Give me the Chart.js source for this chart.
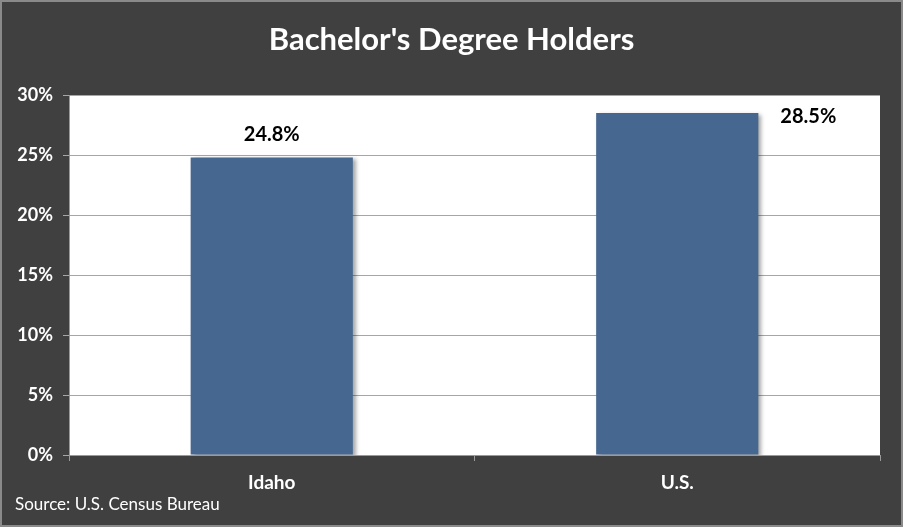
<!DOCTYPE html>
<html><head><meta charset="utf-8">
<script src="https://cdn.jsdelivr.net/npm/chart.js@4"></script>
<style>
html,body{margin:0;padding:0;background:#404040;}
#wrap{width:903px;height:527px;box-sizing:border-box;border:2px solid #8a8a8a;background:#404040;}
canvas{display:block;}
</style></head><body>
<div id="wrap"><canvas id="c" width="899" height="523"></canvas></div>
<script>
const chartTitle = "Bachelor's Degree Holders";
const sourceText = "Source: U.S. Census Bureau";
const categories = ["Idaho", "U.S."];
const values = [24.8, 28.5];
const yTicks = [0, 5, 10, 15, 20, 25, 30];
const FONT = "Lato, 'Open Sans', sans-serif";

const decor = {
  id: 'decor',
  beforeDraw(chart) {
    const {ctx, chartArea: a} = chart;
    ctx.save();
    ctx.fillStyle = '#ffffff';
    ctx.fillRect(a.left, a.top, a.right - a.left, a.bottom - a.top);
    ctx.fillStyle = '#ffffff';
    ctx.font = "bold 31px " + FONT;
    ctx.textAlign = 'center';
    ctx.textBaseline = 'middle';
    ctx.fillText(chartTitle, chart.width / 2, 38);
    ctx.font = "17px " + FONT;
    ctx.textAlign = 'left';
    ctx.fillText(sourceText, 13, 503);
    ctx.restore();
  },
  beforeDatasetsDraw(chart) {
    const ctx = chart.ctx;
    ctx.save();
    ctx.shadowColor = 'rgba(0,0,0,0.35)';
    ctx.shadowOffsetX = 3;
    ctx.shadowOffsetY = 2;
    ctx.shadowBlur = 4;
  },
  afterDatasetsDraw(chart) {
    const ctx = chart.ctx;
    ctx.restore();
    const meta = chart.getDatasetMeta(0);
    ctx.save();
    ctx.fillStyle = '#000000';
    ctx.font = "bold 20px " + FONT;
    ctx.textBaseline = 'middle';
    meta.data.forEach((bar, i) => {
      const txt = values[i].toFixed(1) + '%';
      let y = bar.y - 23;
      if (y - 10 < chart.chartArea.top) {
        ctx.textAlign = 'left';
        ctx.fillText(txt, bar.x + bar.width / 2 + 22, bar.y + 4);
      } else {
        ctx.textAlign = 'center';
        ctx.fillText(txt, bar.x, y);
      }
    });
    ctx.restore();
  }
};

new Chart(document.getElementById('c'), {
  type: 'bar',
  data: {
    labels: categories,
    datasets: [{
      data: values,
      backgroundColor: '#466790',
      borderWidth: 0,
      barPercentage: 0.4,
      categoryPercentage: 1.0
    }]
  },
  options: {
    responsive: false,
    animation: false,
    devicePixelRatio: 1,
    layout: { padding: { top: 93, right: 21, left: 0, bottom: 0 } },
    plugins: { legend: { display: false }, tooltip: { enabled: false }, title: { display: false } },
    scales: {
      x: {
        grid: { offset: true, drawOnChartArea: false, drawTicks: true, tickLength: 6, color: '#9a9a9a' },
        border: { display: true, color: '#9a9a9a', width: 1 },
        ticks: { color: '#ffffff', font: { family: FONT, size: 19, weight: 'bold' }, padding: 10 },
        afterFit(s) { s.height = 70; }
      },
      y: {
        min: 0, max: 30,
        afterBuildTicks(s) { s.ticks = yTicks.map(v => ({ value: v })); },
        grid: { color: '#a6a6a6', drawTicks: true, tickLength: 6 },
        border: { display: true, color: '#9a9a9a', width: 1 },
        ticks: { color: '#ffffff', font: { family: FONT, size: 18, weight: 'bold' }, padding: 10,
                 callback: v => v + '%' },
        afterFit(s) { s.width = 67; }
      }
    }
  },
  plugins: [decor]
});
</script>
</body></html>
